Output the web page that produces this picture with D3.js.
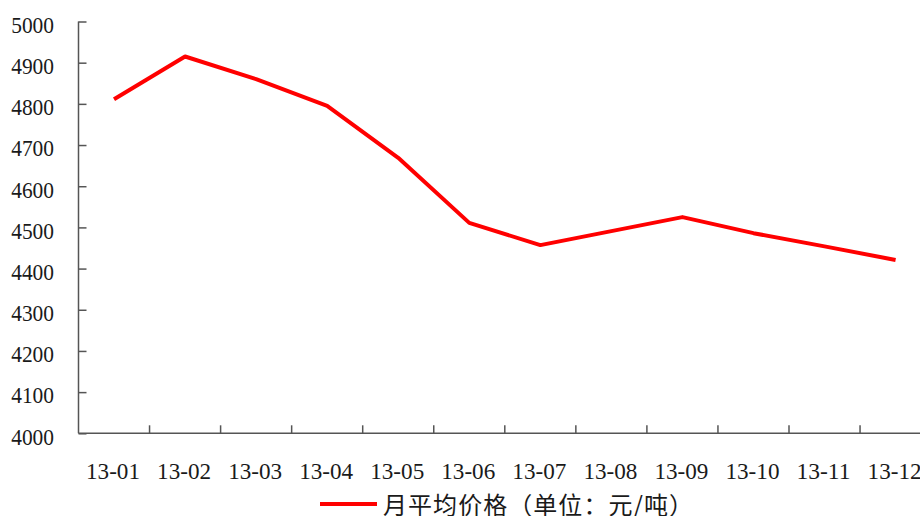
<!DOCTYPE html>
<html>
<head>
<meta charset="utf-8">
<script src="https://cdn.jsdelivr.net/npm/d3@7"></script>
<style>
  html, body { margin: 0; padding: 0; background: #fff; }
  svg { display: block; }
</style>
</head>
<body>
<svg id="chart" width="920" height="516"></svg>
<script>
const categories = ["13-01","13-02","13-03","13-04","13-05","13-06","13-07","13-08","13-09","13-10","13-11","13-12"];
const priceValues = [4811, 4915, 4860, 4795, 4669, 4511, 4457, 4491, 4525, 4486, 4454, 4421];
const yTickValues = [4000, 4100, 4200, 4300, 4400, 4500, 4600, 4700, 4800, 4900, 5000];
const seriesName = "月平均价格（单位：元/吨）";

(function () {
const svg = d3.select("#chart");
const plotLeft = 78.5, plotTop = 21.5, plotBottom = 433.3, band = 71.05;
const plotRight = plotLeft + band * categories.length;

const x = d3.scaleBand().domain(categories).range([plotLeft, plotRight]).padding(0);
const y = d3.scaleLinear().domain([4000, 5000]).range([plotBottom, plotTop]);

const axisColor = "#555";
const textColor = "#1a1a1a";
const serif = "'Liberation Serif', 'DejaVu Serif', serif";

// Y axis
const yAxis = svg.append("g")
  .attr("transform", `translate(${plotLeft},0)`)
  .call(d3.axisLeft(y).tickValues(yTickValues).tickSize(-8).tickPadding(24.5).tickFormat(d3.format("d")));
yAxis.select(".domain").attr("stroke", axisColor).attr("stroke-width", 1.5).attr("d", `M0,${plotTop}V${plotBottom}`);
yAxis.selectAll(".tick line").attr("stroke", axisColor).attr("stroke-width", 1.5);
yAxis.selectAll(".tick text")
  .attr("fill", textColor)
  .style("font-family", serif)
  .style("font-size", "24px")
  .attr("dy", "0.45em")
  .attr("textLength", d => String(d).length * 10.7)
  .attr("lengthAdjust", "spacingAndGlyphs");

// X axis
const xg = svg.append("g");
xg.append("line")
  .attr("x1", plotLeft).attr("x2", plotRight)
  .attr("y1", plotBottom).attr("y2", plotBottom)
  .attr("stroke", axisColor).attr("stroke-width", 1.5);
xg.selectAll("line.xt")
  .data(categories.slice(1))
  .join("line")
  .attr("class", "xt")
  .attr("x1", d => x(d)).attr("x2", d => x(d))
  .attr("y1", plotBottom).attr("y2", plotBottom - 8)
  .attr("stroke", axisColor).attr("stroke-width", 1.5);
xg.selectAll("text")
  .data(categories)
  .join("text")
  .attr("x", d => x(d) + x.bandwidth() / 2 - 1)
  .attr("y", 479)
  .attr("text-anchor", "middle")
  .attr("fill", textColor)
  .style("font-family", serif)
  .style("font-size", "24px")
  .attr("textLength", d => d.length * 10.8)
  .attr("lengthAdjust", "spacingAndGlyphs")
  .text(d => d);

// Line
const line = d3.line()
  .x((d, i) => x(categories[i]) + x.bandwidth() / 2)
  .y(d => y(d));
svg.append("path")
  .datum(priceValues)
  .attr("d", line)
  .attr("fill", "none")
  .attr("stroke", "#ff0000")
  .attr("stroke-width", 4)
  .attr("stroke-linejoin", "round");

// Legend
const lg = svg.append("g");
lg.append("line")
  .attr("x1", 320).attr("x2", 377)
  .attr("y1", 504).attr("y2", 504)
  .attr("stroke", "#ff0000").attr("stroke-width", 4);
lg.append("text")
  .attr("x", 383)
  .attr("y", 514)
  .attr("fill", textColor)
  .style("font-family", "'Noto Sans CJK SC', sans-serif")
  .style("font-size", "24px")
  .attr("textLength", 310)
  .attr("lengthAdjust", "spacing")
  .text(seriesName);
})();
</script>
</body>
</html>
